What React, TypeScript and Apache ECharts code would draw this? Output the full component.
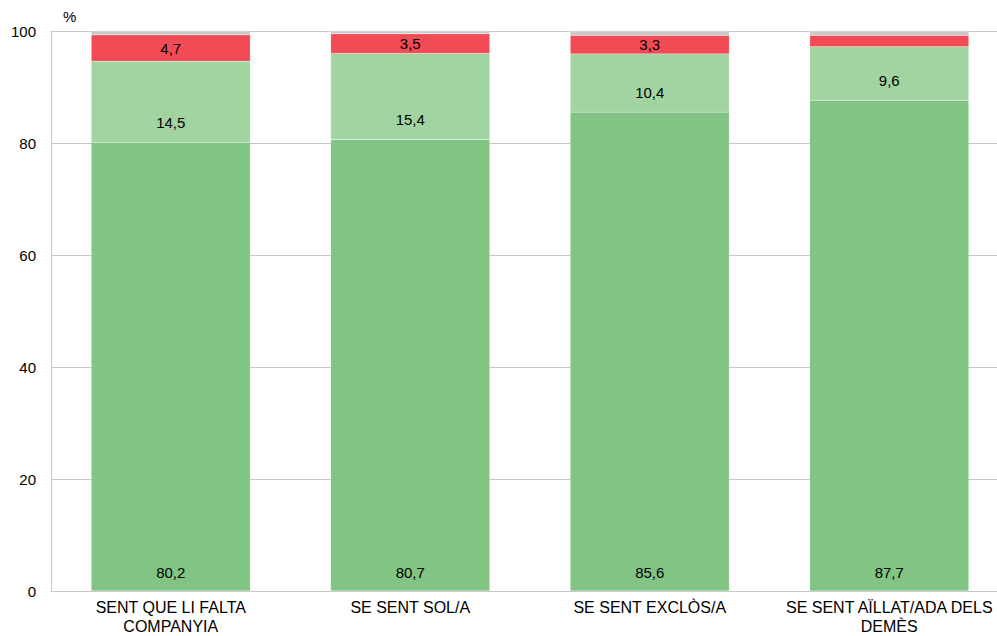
import React, { useEffect, useRef } from "react";
import * as echarts from "echarts";

const categories = [
  "SENT QUE LI FALTA\nCOMPANYIA",
  "SE SENT SOL/A",
  "SE SENT EXCLÒS/A",
  "SE SENT AÏLLAT/ADA DELS\nDEMÈS",
];
const seriesNever = [80.2, 80.7, 85.6, 87.7];
const seriesSometimes = [14.5, 15.4, 10.4, 9.6];
const seriesOften = [4.7, 3.5, 3.3, 2.0];
const seriesNoAnswer = [0.6, 0.4, 0.7, 0.7];
const yTicks = [0, 20, 40, 60, 80, 100];

const FONT = "Liberation Sans, Arial, sans-serif";

export default function App() {
  const ref = useRef<HTMLDivElement>(null);
  useEffect(() => {
    if (!ref.current) return;
    const chart = echarts.init(ref.current, undefined, { renderer: "svg" });
    const label = (position: any, distance: number, hideBelow = 0) => ({
      show: true,
      position,
      distance,
      color: "#000",
      fontSize: 15,
      fontFamily: FONT,
      formatter: (p: any) =>
        p.value < hideBelow ? "" : String(p.value.toFixed(1)).replace(".", ","),
    });
    const itemStyle = (color: string) => ({
      color,
      borderColor: "rgba(255,255,255,0.6)",
      borderWidth: 0.3,
    });
    chart.setOption({
      animation: false,
      grid: { left: 51, right: 0, top: 31.5, bottom: 44.3, containLabel: false },
      xAxis: {
        type: "category",
        data: categories,
        axisLine: { show: true, lineStyle: { color: "#c8c8c8", width: 1 } },
        axisTick: { show: false },
        axisLabel: {
          color: "#000",
          fontSize: 16,
          fontFamily: FONT,
          lineHeight: 19,
          margin: 7,
          interval: 0,
        },
      },
      yAxis: {
        type: "value",
        min: yTicks[0],
        max: yTicks[yTicks.length - 1],
        interval: 20,
        name: "%",
        nameLocation: "end",
        nameGap: 8,
        nameTextStyle: {
          color: "#000",
          fontSize: 15,
          fontFamily: FONT,
          align: "left",
          padding: [0, 0, 0, 12],
        },
        axisLine: { show: true, lineStyle: { color: "#c8c8c8", width: 1 } },
        axisTick: { show: false },
        splitLine: { show: true, lineStyle: { color: "#c8c8c8", width: 1 } },
        axisLabel: { color: "#000", fontSize: 15, fontFamily: FONT, margin: 15 },
      },
      series: [
        {
          name: "Mai",
          type: "bar",
          stack: "total",
          barWidth: "66.4%",
          data: seriesNever,
          itemStyle: itemStyle("#81c484"),
          label: label("insideBottom", 11),
        },
        {
          name: "A vegades",
          type: "bar",
          stack: "total",
          data: seriesSometimes,
          itemStyle: itemStyle("#a1d4a1"),
          label: label("insideBottom", 12),
        },
        {
          name: "Sovint",
          type: "bar",
          stack: "total",
          data: seriesOften,
          itemStyle: itemStyle("#f24b55"),
          label: label("inside", 0, 2.5),
        },
        {
          name: "NS/NC",
          type: "bar",
          stack: "total",
          data: seriesNoAnswer,
          itemStyle: itemStyle("#c8c8c8"),
          label: { show: false },
        },
      ],
    });
    return () => chart.dispose();
  }, []);
  return (
    <div
      ref={ref}
      style={{ position: "fixed", left: 0, top: 0, width: 1009, height: 636, background: "#fff" }}
    />
  );
}
